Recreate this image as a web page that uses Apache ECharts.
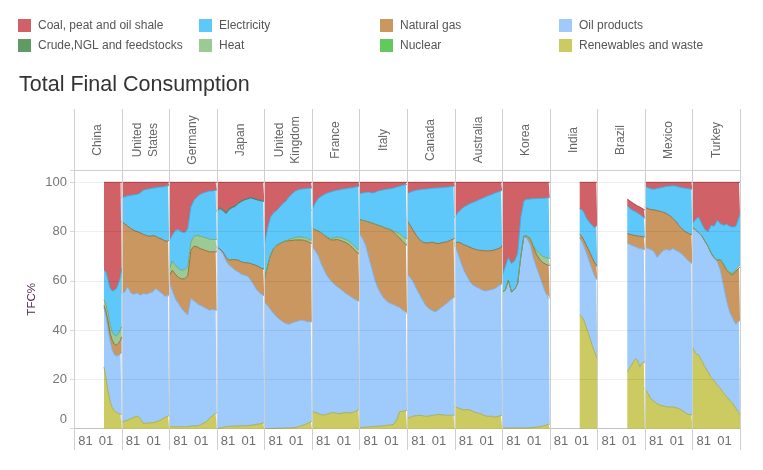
<!DOCTYPE html>
<html><head><meta charset="utf-8">
<script src="https://cdn.jsdelivr.net/npm/echarts@6/dist/echarts.min.js"></script>
<style>html,body{margin:0;padding:0;background:#fff}#c{width:763px;height:470px}</style>
</head><body><div id="c"></div>
<script>
// ---------------- DATA ----------------
const countries = ['China','United States','Germany','Japan','United Kingdom','France','Italy','Canada','Australia','Korea','India','Brazil','Mexico','Turkey'];
const headerLabels = ['China','United\nStates','Germany','Japan','United\nKingdom','France','Italy','Canada','Australia','Korea','India','Brazil','Mexico','Turkey'];
const oecdYears = [1970,1973,1976,1979,1982,1985,1988,1991,1994,1997,2000,2003,2006,2009,2012,2015,2016];
const nonOecdYears = [1999,2001,2003,2005,2007,2009,2011,2013,2015,2016];
const countryYears = [nonOecdYears,oecdYears,oecdYears,oecdYears,oecdYears,oecdYears,oecdYears,oecdYears,oecdYears,oecdYears,nonOecdYears,nonOecdYears,oecdYears,oecdYears];
const xTickValues = [1981, 2001];
const yTickValues = [0,20,40,60,80,100];
const legendNames = ['Coal, peat and oil shale','Crude,NGL and feedstocks','Electricity','Heat','Natural gas','Nuclear','Oil products','Renewables and waste'];

// values in % of TFC, one array per country (order as in `countries`)
const renewables = [
 [25.1,20.4,15.0,10.9,8.6,7.3,6.6,6.2,5.9,5.8],
 [2.8,3.1,3.5,4.1,4.6,5.1,4.2,2.2,2.2,2.4,2.4,2.7,3.2,3.8,4.6,5.1,5.3],
 [0.8,0.8,0.8,0.8,0.8,0.8,0.8,1.1,1.1,1.1,1.5,2.2,2.8,4.2,5.3,6.2,6.5],
 [0.1,0.3,0.5,0.8,1.0,1.0,1.1,1.1,1.2,1.2,1.2,1.4,1.6,1.8,2.0,2.3,2.4],
 [0.1,0.1,0.1,0.1,0.2,0.2,0.2,0.3,0.3,0.4,0.5,0.8,1.2,1.6,2.2,2.8,3.0],
 [6.9,6.6,6.2,5.7,5.5,6.0,6.3,6.6,6.2,6.1,6.4,6.6,6.3,6.6,7.0,7.6,7.8],
 [0.5,0.5,0.6,0.8,0.8,0.9,1.0,1.1,1.2,1.4,1.5,1.8,3.5,7.0,7.0,7.3,7.5],
 [4.2,4.6,5.1,5.3,5.4,5.3,5.0,5.1,5.4,5.5,5.8,5.7,5.5,5.4,5.5,5.5,5.5],
 [8.9,8.5,8.0,7.6,7.8,7.6,7.0,6.5,6.2,5.8,5.1,5.0,5.1,4.7,5.0,5.4,5.5],
 [0.3,0.3,0.3,0.3,0.3,0.3,0.3,0.3,0.3,0.4,0.5,0.6,0.8,1.0,1.4,1.7,1.8],
 [46.1,45.4,44.1,41.6,39.3,36.6,33.9,31.6,29.5,28.5],
 [23.1,24.5,25.8,27.2,28.5,27.8,25.1,26.5,27.2,26.8],
 [16.4,14.3,12.0,11.1,10.1,9.5,9.2,8.9,8.8,8.9,8.5,8.2,7.4,6.5,5.8,5.7,5.5],
 [33.2,30.5,29.9,27.6,25.1,23.1,20.8,19.5,17.7,16.4,14.6,13.0,11.6,10.3,8.2,6.5,5.5]
];
const oilProducts = [
 [24.1,25.0,25.0,24.4,23.3,22.8,22.9,23.5,24.6,25.0],
 [52.1,52.4,54.1,51.0,50.0,50.0,50.0,52.7,52.4,52.7,53.1,54.2,52.7,51.1,49.2,48.7,48.9],
 [58.8,55.4,52.0,50.0,48.0,46.6,45.3,51.7,50.8,49.7,48.6,47.3,46.0,43.9,43.1,41.9,41.6],
 [73.3,72.4,70.6,67.3,65.4,64.4,63.2,62.5,61.5,61.1,60.7,58.9,56.6,54.4,52.9,51.9,51.4],
 [51.4,50.0,48.3,46.7,45.2,44.1,43.2,42.4,42.1,42.6,42.9,43.0,42.9,42.2,41.2,40.6,40.4],
 [67.2,65.8,64.2,61.3,58.8,55.9,54.0,52.3,51.6,50.8,49.5,48.3,47.8,46.6,45.4,44.3,43.7],
 [78.7,76.7,73.9,68.9,64.2,59.4,55.9,53.5,51.6,50.1,49.3,48.6,46.2,42.2,41.1,39.5,39.5],
 [58.5,56.8,54.5,51.6,49.2,46.9,45.1,43.7,42.7,41.9,42.3,43.5,44.6,45.7,46.7,47.7,48.0],
 [65.6,62.9,59.7,56.7,54.1,52.0,51.2,51.1,50.7,50.4,50.8,51.2,51.4,52.2,52.8,53.2,53.4],
 [55.2,55.9,60.0,55.2,56.2,58.6,69.4,77.8,76.9,74.5,69.2,65.1,61.5,57.6,53.7,51.1,51.4],
 [31.1,30.8,30.0,30.2,30.2,30.4,30.7,30.7,31.4,31.8],
 [52.3,50.4,48.7,46.9,45.3,45.6,48.0,46.5,45.5,45.9],
 [57.4,58.8,60.7,60.7,59.4,61.6,63.2,63.8,63.6,64.2,63.9,63.6,63.4,63.0,62.3,61.3,61.5],
 [48.4,50.3,49.6,50.8,51.1,51.0,50.3,49.6,50.1,47.9,43.6,39.0,35.8,34.4,34.2,36.9,38.6]
];
const nuclear = [null,null,null,null,null,null,null,null,null,null,null,null,null,null];
const naturalGas = [
 [0.9,2.0,3.4,3.3,4.0,4.2,4.4,4.9,5.4,6.5],
 [29.0,27.7,24.6,26.1,25.9,24.9,25.3,24.0,23.8,23.0,22.9,21.2,21.5,22.0,22.4,22.4,22.3],
 [2.3,8.1,9.9,10.6,12.0,13.5,15.8,19.6,22.2,23.0,23.0,23.2,23.4,23.7,23.4,23.7,23.7],
 [0.4,0.3,0.7,1.4,2.0,3.2,4.3,4.8,5.0,5.1,5.4,6.7,8.4,9.9,10.5,10.7,10.8],
 [8.8,15.6,22.0,26.3,29.1,30.8,32.4,33.5,33.9,33.4,33.2,32.8,32.5,32.6,32.6,31.9,31.9],
 [7.1,8.4,9.9,12.5,14.2,15.6,16.4,17.7,19.0,19.6,20.1,20.6,20.6,20.4,19.8,19.2,19.3],
 [5.7,7.4,9.8,14.2,18.5,22.7,25.7,27.6,28.8,29.7,30.0,29.4,28.8,28.2,27.8,27.9,27.4],
 [21.9,21.2,20.9,21.6,22.2,23.6,25.3,26.6,27.6,28.0,27.0,26.2,25.6,24.8,24.3,23.8,23.7],
 [0.9,4.3,7.7,10.3,12.3,14.0,14.9,15.1,15.5,16.1,16.3,16.0,15.8,15.7,15.2,15.0,15.6],
 [0,0,0,0,0,0,0,0,1.0,2.3,4.3,5.2,6.6,8.9,11.7,13.5,13.1],
 [1.7,1.9,2.4,3.1,3.6,4.4,4.9,5.4,5.5,5.4],
 [3.8,4.0,4.3,4.4,4.6,4.8,5.0,5.0,5.1,5.1],
 [16.2,16.2,16.2,17.0,19.0,17.1,15.4,14.6,14.1,12.3,11.8,10.6,10.3,10.5,11.2,11.8,11.6],
 [0,0,0,0,0,0,0.3,0.4,0.6,4.3,8.6,12.3,15.7,17.7,21.5,21.8,21.6]
];
const heat = [
 [2.3,2.7,3.4,3.4,3.4,3.7,3.7,4.0,4.4,4.1],
 null,
 [2.4,3.8,3.7,3.6,3.5,3.7,3.8,3.4,4.0,4.7,5.0,5.1,5.2,5.1,5.0,5.0,5.0],
 null,
 [0,0,0,0,0,0,0,0,0.5,0.8,1.0,1.2,1.2,1.2,1.2,1.2,1.2],
 [0,0,0,0,0,0.3,0.5,0.8,1.0,1.1,1.2,1.3,1.4,1.5,1.6,1.6,1.6],
 [0,0,0,0,0,0,0,0,0,0,0,0.5,1.2,1.8,2.2,2.5,2.5],
 null,
 null,
 [0,0,0,0,0,0,0,0,0,0,0.5,1.5,2.2,2.5,2.7,2.8,2.8],
 null,
 null,
 null,
 [0,0,0,0,0,0,0,0,0,0,0,0.3,0.5,0.6,0.7,0.7,0.7]
];
const electricity = [
 [11.9,13.5,13.5,14.9,16.6,18.2,19.3,20.3,21.6,23.6],
 [9.9,10.9,12.3,13.5,14.5,15.1,16.2,17.9,18.8,19.3,19.3,19.7,20.7,21.2,22.2,22.4,22.3],
 [11.9,10.4,14.1,15.8,15.6,14.9,15.5,14.2,14.6,15.6,17.0,17.9,18.7,19.6,19.7,20.0,20.0],
 [14.1,16.2,16.6,17.6,20.4,21.0,21.6,23.0,24.5,25.4,25.9,26.6,26.6,26.7,27.1,27.3,27.6],
 [14.2,15.5,15.5,14.5,14.1,14.9,15.6,16.2,17.3,18.2,18.9,19.2,19.5,19.8,20.4,21.2,21.2],
 [7.4,10.6,13.1,14.8,16.6,17.9,18.9,19.1,19.0,19.4,20.1,20.6,21.6,22.7,24.3,25.7,26.0],
 [10.5,11.1,11.6,12.2,12.2,12.9,13.9,14.6,15.4,16.1,16.6,17.4,18.4,19.2,20.7,21.9,22.3],
 [10.8,13.4,16.0,18.3,20.2,21.4,21.9,22.0,21.9,22.3,22.7,22.4,22.3,22.2,21.7,21.4,21.3],
 [10.3,11.9,13.5,15.4,16.5,17.8,18.8,19.7,20.6,21.2,21.9,22.4,22.8,23.1,23.1,22.9,22.3],
 [6.4,9.5,9.2,11.5,11.6,12.2,16.2,14.3,15.0,16.0,18.9,21.0,22.4,23.5,24.1,24.7,24.7],
 [10.4,10.8,11.5,11.0,11.5,12.1,13.1,13.9,15.8,16.9],
 [11.5,10.7,10.2,10.0,9.7,9.3,8.9,8.3,7.9,7.6],
 [8.5,8.5,8.5,8.4,9.1,9.6,10.3,11.1,12.0,13.2,14.3,15.7,16.7,17.7,18.1,18.5,18.6],
 [1.6,4.1,6.4,4.8,4.6,5.8,11.2,12.7,16.2,14.6,15.8,18.4,18.6,18.9,17.6,20.0,20.9]
];
const crude = [
 null,null,null,
 [0.5,0.5,0.5,0.5,0.4,0.3,0.3,0.2,0.2,0.2,0.2,0.2,0.2,0.2,0.2,0.2,0.2],
 null,null,null,null,null,null,null,null,null,null
];
const coal = [
 [35.7,36.4,39.7,43.1,44.1,43.8,43.1,41.1,38.1,35.0],
 [6.2,5.9,5.5,5.3,5.0,4.9,4.3,3.2,2.8,2.6,2.3,2.2,1.9,1.9,1.6,1.4,1.2],
 [23.8,21.5,19.5,19.2,20.1,20.5,18.8,10.0,7.3,5.9,4.9,4.3,3.9,3.5,3.5,3.2,3.2],
 [11.6,10.3,11.1,12.4,10.8,10.1,9.5,8.4,7.6,7.0,6.6,6.2,6.6,7.0,7.3,7.6,7.6],
 [25.5,18.8,14.1,12.4,11.4,10.0,8.6,7.6,5.9,4.6,3.5,3.0,2.7,2.6,2.4,2.3,2.3],
 [11.4,8.6,6.6,5.7,4.9,4.3,3.9,3.5,3.2,3.0,2.7,2.6,2.3,2.2,1.9,1.6,1.6],
 [4.6,4.3,4.1,3.9,4.3,4.1,3.5,3.2,3.0,2.7,2.6,2.3,1.9,1.6,1.2,0.9,0.8],
 [4.6,4.0,3.5,3.2,3.0,2.8,2.7,2.6,2.4,2.3,2.2,2.2,2.0,1.9,1.8,1.6,1.5],
 [14.3,12.4,11.1,10.0,9.3,8.6,8.1,7.6,7.0,6.5,5.9,5.4,4.9,4.3,3.9,3.5,3.2],
 [38.1,34.3,30.5,33.0,31.9,28.9,14.1,7.6,6.8,6.8,6.6,6.6,6.5,6.5,6.4,6.2,6.2],
 [10.7,11.1,12.0,14.1,15.4,16.5,17.4,18.4,17.8,17.4],
 [2.5,3.0,3.0,2.9,2.8,2.9,3.0,3.2,3.3,3.4],
 [1.5,2.2,2.6,2.8,2.4,2.2,1.9,1.6,1.5,1.4,1.5,1.9,2.2,2.3,2.6,2.7,2.8],
 [16.8,15.1,14.1,16.8,19.2,20.1,17.4,17.8,15.4,16.8,17.4,17.0,17.8,18.1,17.8,14.1,12.7]
];

// ---------------- STYLE / LAYOUT ----------------
const COLORS = {
  'Coal, peat and oil shale': ['#cf6167', '#a9393f'],
  'Crude,NGL and feedstocks': ['#5f9b62', '#3f7a43'],
  'Electricity': ['#5ec8fa', '#3ba6dc'],
  'Heat': ['#9cca95', '#72a76b'],
  'Natural gas': ['#ca9760', '#8c6a30'],
  'Nuclear': ['#62c95f', '#45a843'],
  'Oil products': ['#9ecbfc', '#79aee6'],
  'Renewables and waste': ['#cbcb62', '#a9aa47']
};
// bottom -> top stacking order
const stackOrder = [
  ['Renewables and waste', renewables],
  ['Oil products', oilProducts],
  ['Nuclear', nuclear],
  ['Natural gas', naturalGas],
  ['Heat', heat],
  ['Electricity', electricity],
  ['Crude,NGL and feedstocks', crude],
  ['Coal, peat and oil shale', coal]
];

const FONT = '"Liberation Sans", Arial, sans-serif';
const PL = 74, PR = 740, PT = 170, PB = 428.7, HT = 109, BOT = 450;
const PW = (PR - PL) / countries.length;

const grid = [], xAxis = [], yAxis = [], series = [];
countries.forEach((c, i) => {
  grid.push({ left: PL + i * PW, top: PT, width: PW, height: PB - PT });
  xAxis.push({
    type: 'value', gridIndex: i, min: 1970, max: 2016,
    axisLine: { show: true, lineStyle: { color: '#d0d0d0', width: 1 } },
    axisTick: { show: false }, splitLine: { show: false },
    axisLabel: {
      customValues: xTickValues, formatter: v => String(v).slice(2),
      color: '#6e6e6e', fontSize: 13, margin: 6, fontFamily: FONT
    }
  });
  yAxis.push({
    type: 'value', gridIndex: i, min: 0, max: 105, interval: 20, z: 3,
    name: i === 0 ? 'TFC%' : '', nameLocation: 'middle', nameRotate: 90, nameGap: 36,
    nameTextStyle: { color: '#4d2b4f', fontSize: 11.5, fontFamily: FONT },
    axisLine: { show: false },
    axisTick: { show: i === 0, length: 4, lineStyle: { color: '#d8d8d8' } },
    axisLabel: {
      show: i === 0, margin: 7, color: '#777', fontSize: 13, fontFamily: FONT,
      formatter: v => (v === 0 ? '{z|0}' : (yTickValues.indexOf(v) >= 0 ? String(v) : '')),
      rich: { z: { padding: [0, 0, 18, 0], fontSize: 13, color: '#777', fontFamily: FONT } }
    },
    splitLine: { show: true, lineStyle: { color: 'rgba(0,0,0,0.065)', width: 1 } }
  });
  const years = countryYears[i];
  stackOrder.forEach(([name, arr]) => {
    const vals = arr[i];
    if (!vals) return;
    const [fill, line] = COLORS[name];
    series.push({
      type: 'line', name, xAxisIndex: i, yAxisIndex: i, stack: 's' + i,
      // [value, year] so the stacked dimension is the value (y)
      data: years.map((y, k) => [vals[k], y]),
      encode: { x: 1, y: 0 },
      symbol: 'none', showSymbol: false, silent: true, z: 2,
      lineStyle: { width: 0.9, color: line },
      itemStyle: { color: fill },
      areaStyle: { color: fill, opacity: 1 }
    });
  });
});

const graphic = [];
// title
graphic.push({ type: 'text', x: 19, y: 85, z: 10, style: { text: 'Total Final Consumption', fill: '#333', font: '21.5px ' + FONT, verticalAlign: 'middle' } });
// legend (4 columns x 2 rows, column-major)
const legX = [18, 199, 380, 559], legY = [19, 39];
legendNames.forEach((n, k) => {
  const col = Math.floor(k / 2), row = k % 2;
  graphic.push({ type: 'rect', z: 10, shape: { x: legX[col], y: legY[row], width: 13, height: 13 }, style: { fill: COLORS[n][0] } });
  graphic.push({ type: 'text', z: 10, x: legX[col] + 20, y: legY[row] + 6.5, style: { text: n, fill: '#555', font: '12px ' + FONT, verticalAlign: 'middle' } });
});
// header labels
headerLabels.forEach((t, i) => {
  graphic.push({ type: 'text', z: 10, x: PL + (i + 0.5) * PW, y: 140, rotation: Math.PI / 2,
    style: { text: t, fill: '#666', font: '12px ' + FONT, align: 'center', verticalAlign: 'middle', lineHeight: 16 } });
});
// panel separators
for (let i = 0; i <= countries.length; i++) {
  const x = Math.round(PL + i * PW) + 0.5;
  graphic.push({ type: 'line', z: 20, shape: { x1: x, y1: HT, x2: x, y2: BOT }, style: { stroke: '#cfcfcf', lineWidth: 1 } });
}
graphic.push({ type: 'line', z: 20, shape: { x1: PL, y1: PT + 0.5, x2: PR + 1, y2: PT + 0.5 }, style: { stroke: '#cfcfcf', lineWidth: 1 } });

const chart = echarts.init(document.getElementById('c'), null, { renderer: 'canvas' });
chart.setOption({
  animation: false,
  backgroundColor: '#fff',
  textStyle: { fontFamily: FONT },
  grid, xAxis, yAxis, series, graphic
});
</script></body></html>
